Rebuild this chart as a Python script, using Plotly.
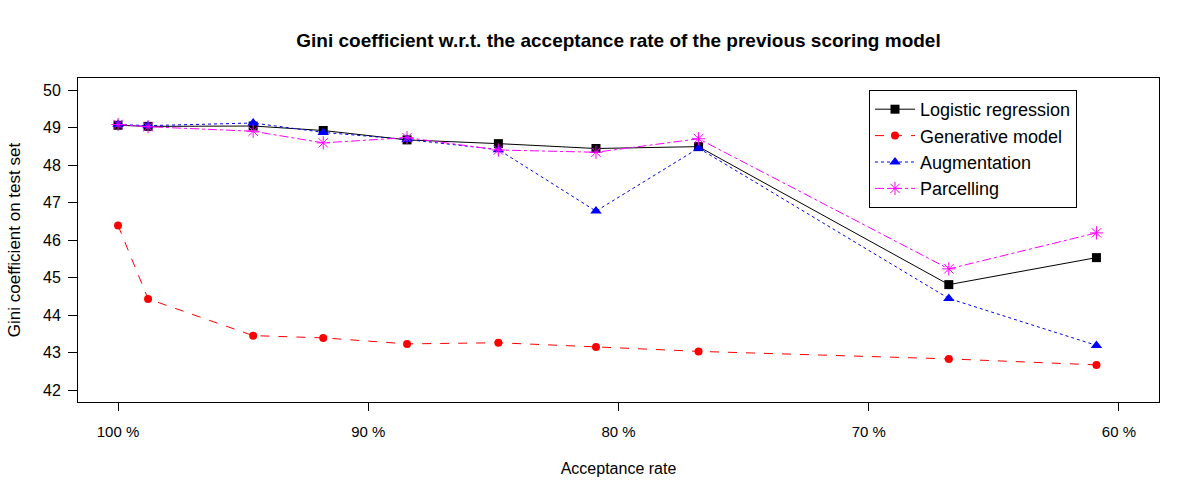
import plotly.graph_objects as go

acceptance = [100, 98.8, 94.6, 91.8, 88.45, 84.8, 80.9, 76.8, 66.8, 60.9]
logistic = [49.06, 49.03, 49.04, 48.92, 48.67, 48.57, 48.44, 48.49, 44.81, 45.53]
generative = [46.39, 44.43, 43.45, 43.39, 43.23, 43.26, 43.15, 43.03, 42.83, 42.67]
augmentation = [49.08, 49.05, 49.12, 48.87, 48.68, 48.41, 46.77, 48.45, 44.44, 43.19]
parcelling = [49.08, 49.02, 48.90, 48.59, 48.73, 48.40, 48.34, 48.70, 45.23, 46.19]

x_ticks = [100, 90, 80, 70, 60]
x_ticktext = ["100 %", "90 %", "80 %", "70 %", "60 %"]
y_ticks = [42, 43, 44, 45, 46, 47, 48, 49, 50]

FONT = "Liberation Sans, Arial, sans-serif"

fig = go.Figure()
fig.add_trace(go.Scatter(x=acceptance, y=logistic, name="Logistic regression",
                         mode="lines+markers",
                         line=dict(color="black", width=1, dash="solid"),
                         marker=dict(symbol="square", size=9, color="black")))
fig.add_trace(go.Scatter(x=acceptance, y=generative, name="Generative model",
                         mode="lines+markers",
                         line=dict(color="red", width=1, dash="dash"),
                         marker=dict(symbol="circle", size=8, color="red")))
fig.add_trace(go.Scatter(x=acceptance, y=augmentation, name="Augmentation",
                         mode="lines+markers",
                         line=dict(color="blue", width=1, dash="dot"),
                         marker=dict(symbol="triangle-up", size=10, color="blue")))
fig.add_trace(go.Scatter(x=acceptance, y=parcelling, name="Parcelling",
                         mode="lines+markers",
                         line=dict(color="magenta", width=1, dash="dashdot"),
                         marker=dict(symbol="asterisk-open", size=11,
                                     line=dict(color="magenta", width=1))))

fig.update_layout(
    width=1200, height=500,
    margin=dict(l=78, r=41, t=78, b=98),
    paper_bgcolor="white", plot_bgcolor="white",
    font=dict(family=FONT, color="black", size=15),
    title=dict(text="<b>Gini coefficient w.r.t. the acceptance rate of the previous scoring model</b>",
               x=(78 + 1159) / 2 / 1200, xanchor="center", y=1 - 40 / 500, yanchor="middle",
               font=dict(size=19, family=FONT)),
    showlegend=True,
    legend=dict(x=(869 - 78) / (1159 - 78), y=(402 - 90) / 324, xanchor="left", yanchor="top",
                bgcolor="white", bordercolor="black", borderwidth=1,
                font=dict(size=18, family=FONT), itemwidth=40, tracegroupgap=0),
)
fig.update_xaxes(range=[101.6, 58.4], tickvals=x_ticks, ticktext=x_ticktext,
                 showgrid=False, zeroline=False, showline=True, linecolor="black",
                 linewidth=1, mirror=True, ticks="outside", ticklen=8, tickcolor="black",
                 ticklabelstandoff=8, tickfont=dict(size=15),
                 title=dict(text="Acceptance rate", standoff=23, font=dict(size=16)))
fig.update_yaxes(range=[41.68, 50.32], tickvals=y_ticks,
                 showgrid=False, zeroline=False, showline=True, linecolor="black",
                 linewidth=1, mirror=True, ticks="outside", ticklen=9, tickcolor="black",
                 ticklabelstandoff=4, tickfont=dict(size=16),
                 title=dict(text="Gini coefficient on test set", standoff=18, font=dict(size=17)))

fig.write_html("out.html")
